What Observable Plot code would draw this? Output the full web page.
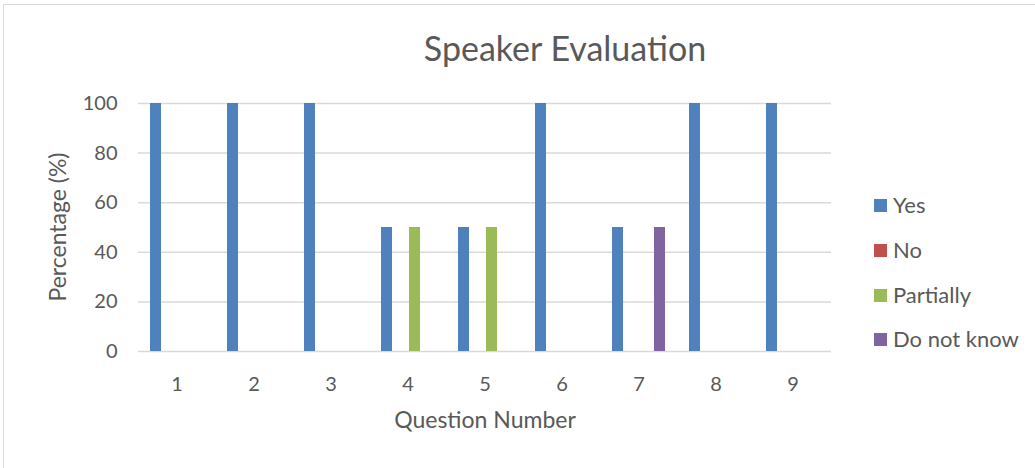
<!DOCTYPE html>
<html>
<head>
<meta charset="utf-8">
<script src="https://cdn.jsdelivr.net/npm/d3@7"></script>
<script src="https://cdn.jsdelivr.net/npm/@observablehq/plot@0.6"></script>
<style>
  html, body { margin: 0; padding: 0; background: #fff; }
  #wrap { position: relative; width: 1035px; height: 468px; overflow: hidden; font-family: Lato, sans-serif; color: #595959; }
  #frame { position: absolute; left: 3px; top: 4px; width: 1100px; height: 520px; border: 1px solid #d9d9d9; box-sizing: border-box; }
  #chart { position: absolute; left: 0; top: 0; }
  #title { position: absolute; left: 0; width: 1130px; top: 31px; text-align: center; font-size: 34px; line-height: 1; }
  #xlabel { position: absolute; left: 0; width: 970px; top: 408px; text-align: center; font-size: 23px; line-height: 1; }
  #ylabel { position: absolute; left: 57px; top: 227px; transform: translate(-50%, -50%) rotate(-90deg); font-size: 23px; line-height: 1; white-space: nowrap; }
  .lg { position: absolute; left: 874px; font-size: 22px; line-height: 1; display: flex; align-items: center; white-space: nowrap; }
  .lg span.sw { display: inline-block; width: 13px; height: 13px; margin-right: 6px; }
</style>
</head>
<body>
<div id="wrap">
  <div id="frame"></div>
  <div id="chart"></div>
  <div id="title">Speaker Evaluation</div>
  <div id="xlabel">Question Number</div>
  <div id="ylabel">Percentage (%)</div>
</div>
<script>
const questions = ["1", "2", "3", "4", "5", "6", "7", "8", "9"];
const series = ["Yes", "No", "Partially", "Do not know"];
const yesValues = [100, 100, 100, 50, 50, 100, 50, 100, 100];
const noValues = [0, 0, 0, 0, 0, 0, 0, 0, 0];
const partiallyValues = [0, 0, 0, 50, 50, 0, 0, 0, 0];
const doNotKnowValues = [0, 0, 0, 0, 0, 0, 50, 0, 0];
const seriesColors = ["#4f81bd", "#c0504d", "#9bbb59", "#8064a2"];
const yTicks = [0, 20, 40, 60, 80, 100];

const valueLists = [yesValues, noValues, partiallyValues, doNotKnowValues];
const data = questions.flatMap((q, i) => series.map((s, j) => ({ q, s, v: valueLists[j][i] })));

const chart = Plot.plot({
  width: 1035,
  height: 468,
  marginLeft: 138,
  marginRight: 204,
  marginTop: 103,
  marginBottom: 117,
  style: { fontFamily: "Lato, sans-serif", fontSize: "20px", color: "#595959", background: "transparent" },
  fx: { domain: questions, padding: 0, label: null, axis: "bottom", tickSize: 0, tickPadding: 25 },
  x: { domain: series, axis: null, paddingInner: 0.214, paddingOuter: 0.857, round: false },
  y: { domain: [0, 100], ticks: yTicks, tickSize: 0, tickPadding: 21, label: null },
  color: { domain: series, range: seriesColors },
  marks: [
    Plot.gridY(yTicks, { stroke: "#d9d9d9", strokeOpacity: 1, strokeWidth: 1.5 }),
    Plot.barY(data, { fx: "q", x: "s", y: "v", fill: "s" })
  ]
});
chart.querySelectorAll("text").forEach(t => t.setAttribute("fill", "#595959"));
document.getElementById("chart").appendChild(chart);

const wrap = document.getElementById("wrap");
const rowCenters = [205, 250, 295, 339];
series.forEach((s, i) => {
  const d = document.createElement("div");
  d.className = "lg";
  d.style.top = (rowCenters[i] - 12) + "px";
  d.style.height = "24px";
  d.innerHTML = `<span class="sw" style="background:${seriesColors[i]}"></span><span>${s}</span>`;
  wrap.appendChild(d);
});
</script>
</body>
</html>
